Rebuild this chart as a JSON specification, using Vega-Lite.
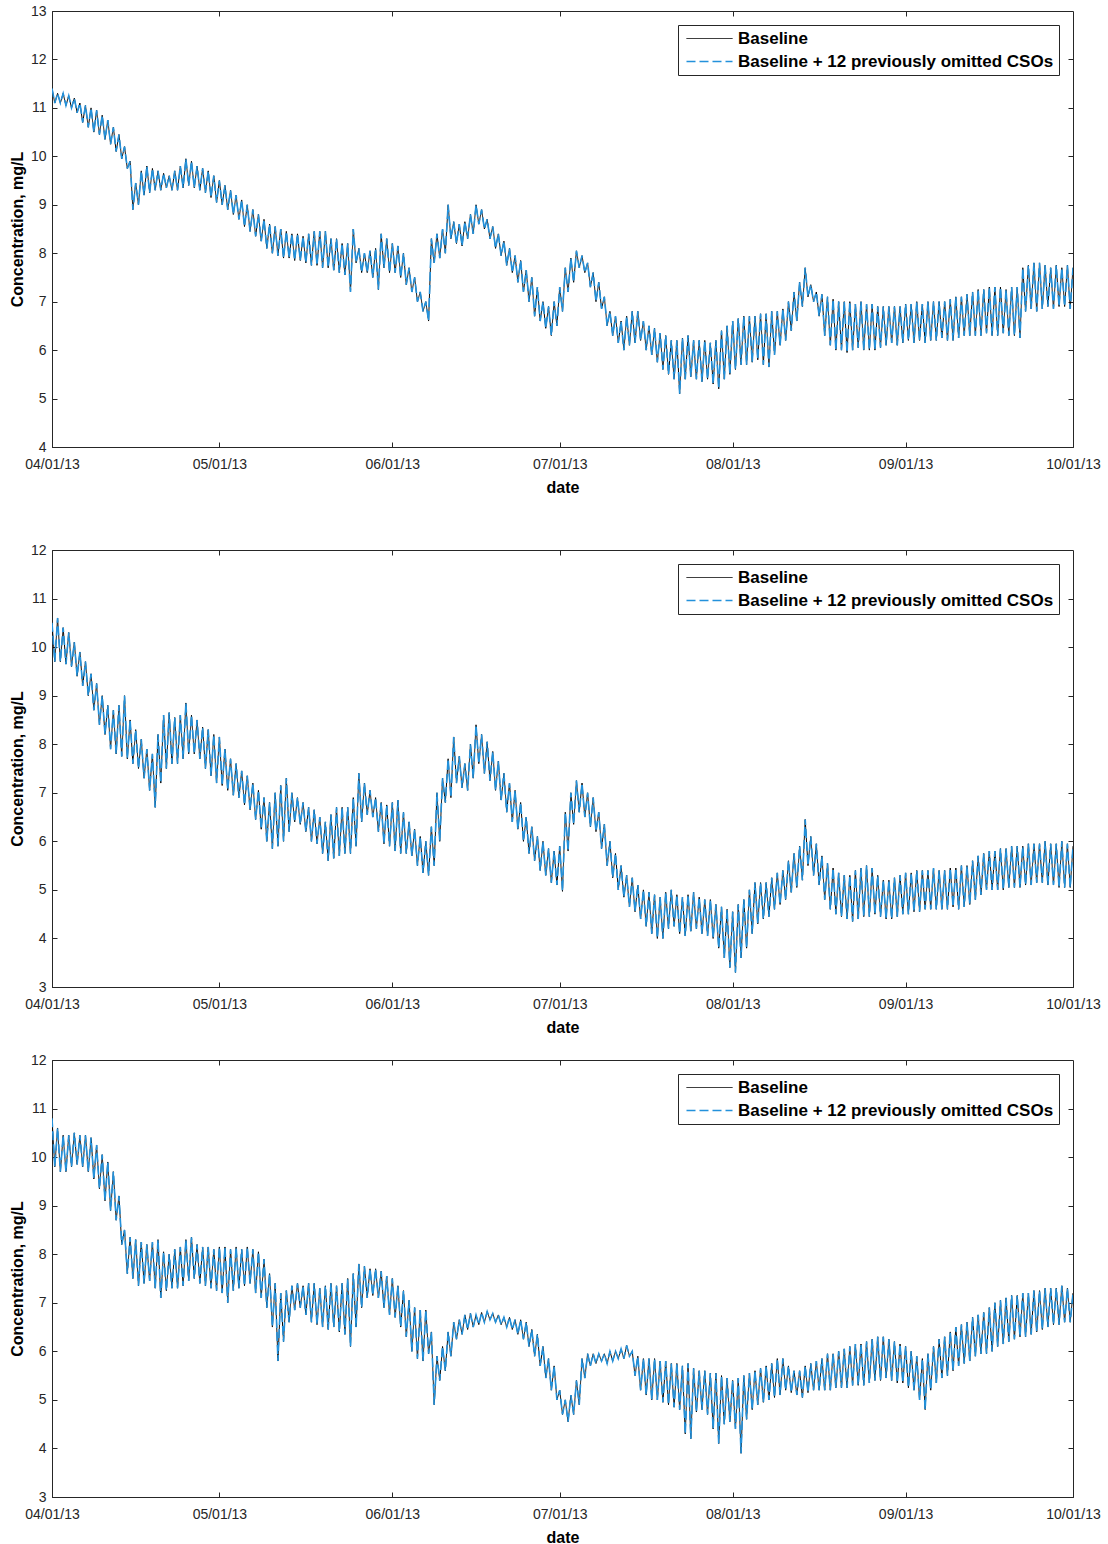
{
"$schema":"https://vega.github.io/schema/vega-lite/v6.json",
"padding":{"left":8,"top":3,"right":0,"bottom":0},
"spacing":46,
"config":{
"view":{"stroke":"#262626","strokeWidth":1},
"font":"Liberation Sans",
"axis":{"grid":false,"labelFont":"Liberation Sans","labelFontSize":14,"labelColor":"#262626","domainColor":"#262626","tickColor":"#262626","tickSize":-5,"titleFont":"Liberation Sans","titleFontSize":16,"titleFontWeight":"bold","titleColor":"#000000","labelFlush":false,"labelOverlap":false},
"axisX":{"labelPadding":15,"titlePadding":8},
"axisY":{"labelPadding":11,"titlePadding":5},
"legend":{"orient":"top-right","offset":14,"labelFont":"Liberation Sans","labelFontSize":17,"labelFontWeight":"bold","labelColor":"#000000","labelLimit":600,"symbolType":"M-4.6,0H4.6","symbolSize":100,"symbolOffset":18,"symbolStrokeWidth":1.5,"strokeColor":"#262626","fillColor":"#ffffff","padding":5,"labelOffset":20,"rowPadding":5}
},
"data":{"format":{"parse":{"t":"date:'%y%m%d%H'"}},"values":[
{"t":"13040100","b1":11.4,"c1":11.4,"b2":10.5,"c2":10.5,"b3":10.8,"c3":10.8},
{"t":"13040112","b1":11.1,"c1":11.1,"b2":9.7,"c2":9.7,"b3":9.8,"c3":9.8},
{"t":"13040200","b1":11.3,"c1":11.3,"b2":10.6,"c2":10.6,"b3":10.6,"c3":10.6},
{"t":"13040212","b1":11.1,"c1":11.1,"b2":9.7,"c2":9.7,"b3":9.7,"c3":9.7},
{"t":"13040300","b1":11.3,"c1":11.3,"b2":10.4,"c2":10.4,"b3":10.45,"c3":10.45},
{"t":"13040312","b1":11.05,"c1":11.05,"b2":9.65,"c2":9.65,"b3":9.7,"c3":9.7},
{"t":"13040400","b1":11.25,"c1":11.25,"b2":10.3,"c2":10.3,"b3":10.45,"c3":10.45},
{"t":"13040412","b1":11.0,"c1":11.0,"b2":9.6,"c2":9.6,"b3":9.8,"c3":9.8},
{"t":"13040500","b1":11.2,"c1":11.2,"b2":10.1,"c2":10.1,"b3":10.5,"c3":10.5},
{"t":"13040512","b1":10.9,"c1":10.9,"b2":9.4,"c2":9.4,"b3":9.85,"c3":9.85},
{"t":"13040600","b1":11.1,"c1":11.1,"b2":9.9,"c2":9.9,"b3":10.45,"c3":10.45},
{"t":"13040612","b1":10.7,"c1":10.7,"b2":9.2,"c2":9.2,"b3":9.8,"c3":9.8},
{"t":"13040700","b1":11.05,"c1":11.05,"b2":9.7,"c2":9.7,"b3":10.45,"c3":10.45},
{"t":"13040712","b1":10.6,"c1":10.6,"b2":9.0,"c2":9.0,"b3":9.7,"c3":9.7},
{"t":"13040800","b1":11.0,"c1":11.0,"b2":9.45,"c2":9.45,"b3":10.4,"c3":10.4},
{"t":"13040812","b1":10.5,"c1":10.5,"b2":8.7,"c2":8.7,"b3":9.55,"c3":9.55},
{"t":"13040900","b1":10.95,"c1":10.95,"b2":9.25,"c2":9.25,"b3":10.25,"c3":10.25},
{"t":"13040912","b1":10.45,"c1":10.45,"b2":8.4,"c2":8.4,"b3":9.35,"c3":9.35},
{"t":"13041000","b1":10.85,"c1":10.85,"b2":9.0,"c2":9.0,"b3":10.05,"c3":10.05},
{"t":"13041012","b1":10.35,"c1":10.35,"b2":8.2,"c2":8.2,"b3":9.1,"c3":9.1},
{"t":"13041100","b1":10.75,"c1":10.75,"b2":8.8,"c2":8.8,"b3":9.9,"c3":9.9},
{"t":"13041112","b1":10.25,"c1":10.25,"b2":7.9,"c2":7.9,"b3":8.9,"c3":8.9},
{"t":"13041200","b1":10.6,"c1":10.6,"b2":8.7,"c2":8.7,"b3":9.7,"c3":9.7},
{"t":"13041212","b1":10.1,"c1":10.1,"b2":7.8,"c2":7.8,"b3":8.7,"c3":8.7},
{"t":"13041300","b1":10.45,"c1":10.45,"b2":8.8,"c2":8.8,"b3":9.2,"c3":9.2},
{"t":"13041312","b1":9.95,"c1":9.95,"b2":7.75,"c2":7.75,"b3":8.2,"c3":8.2},
{"t":"13041400","b1":10.2,"c1":10.2,"b2":9.0,"c2":9.0,"b3":8.5,"c3":8.5},
{"t":"13041412","b1":9.75,"c1":9.75,"b2":7.7,"c2":7.7,"b3":7.6,"c3":7.6},
{"t":"13041500","b1":9.9,"c1":9.9,"b2":8.5,"c2":8.5,"b3":8.35,"c3":8.35},
{"t":"13041512","b1":8.9,"c1":8.9,"b2":7.6,"c2":7.6,"b3":7.5,"c3":7.5},
{"t":"13041600","b1":9.45,"c1":9.45,"b2":8.3,"c2":8.3,"b3":8.3,"c3":8.3},
{"t":"13041612","b1":9.0,"c1":9.0,"b2":7.5,"c2":7.5,"b3":7.35,"c3":7.35},
{"t":"13041700","b1":9.7,"c1":9.7,"b2":8.1,"c2":8.1,"b3":8.25,"c3":8.25},
{"t":"13041712","b1":9.2,"c1":9.2,"b2":7.3,"c2":7.3,"b3":7.4,"c3":7.4},
{"t":"13041800","b1":9.8,"c1":9.8,"b2":7.9,"c2":7.9,"b3":8.2,"c3":8.2},
{"t":"13041812","b1":9.25,"c1":9.25,"b2":7.05,"c2":7.05,"b3":7.45,"c3":7.45},
{"t":"13041900","b1":9.75,"c1":9.75,"b2":7.8,"c2":7.8,"b3":8.25,"c3":8.25},
{"t":"13041912","b1":9.3,"c1":9.3,"b2":6.7,"c2":6.7,"b3":7.3,"c3":7.3},
{"t":"13042000","b1":9.7,"c1":9.7,"b2":8.2,"c2":8.2,"b3":8.3,"c3":8.3},
{"t":"13042012","b1":9.3,"c1":9.3,"b2":7.2,"c2":7.2,"b3":7.1,"c3":7.1},
{"t":"13042100","b1":9.65,"c1":9.65,"b2":8.6,"c2":8.6,"b3":8.05,"c3":8.05},
{"t":"13042112","b1":9.35,"c1":9.35,"b2":7.5,"c2":7.5,"b3":7.25,"c3":7.25},
{"t":"13042200","b1":9.6,"c1":9.6,"b2":8.65,"c2":8.65,"b3":8.0,"c3":8.0},
{"t":"13042212","b1":9.3,"c1":9.3,"b2":7.6,"c2":7.6,"b3":7.3,"c3":7.3},
{"t":"13042300","b1":9.7,"c1":9.7,"b2":8.55,"c2":8.55,"b3":8.1,"c3":8.1},
{"t":"13042312","b1":9.3,"c1":9.3,"b2":7.6,"c2":7.6,"b3":7.3,"c3":7.3},
{"t":"13042400","b1":9.8,"c1":9.8,"b2":8.6,"c2":8.6,"b3":8.15,"c3":8.15},
{"t":"13042412","b1":9.35,"c1":9.35,"b2":7.7,"c2":7.7,"b3":7.35,"c3":7.35},
{"t":"13042500","b1":9.95,"c1":9.95,"b2":8.85,"c2":8.85,"b3":8.3,"c3":8.3},
{"t":"13042512","b1":9.4,"c1":9.4,"b2":7.8,"c2":7.8,"b3":7.45,"c3":7.45},
{"t":"13042600","b1":9.9,"c1":9.9,"b2":8.6,"c2":8.6,"b3":8.35,"c3":8.35},
{"t":"13042612","b1":9.35,"c1":9.35,"b2":7.8,"c2":7.8,"b3":7.5,"c3":7.5},
{"t":"13042700","b1":9.8,"c1":9.8,"b2":8.5,"c2":8.5,"b3":8.2,"c3":8.2},
{"t":"13042712","b1":9.3,"c1":9.3,"b2":7.7,"c2":7.7,"b3":7.4,"c3":7.4},
{"t":"13042800","b1":9.75,"c1":9.75,"b2":8.35,"c2":8.35,"b3":8.15,"c3":8.15},
{"t":"13042812","b1":9.25,"c1":9.25,"b2":7.5,"c2":7.5,"b3":7.35,"c3":7.35},
{"t":"13042900","b1":9.7,"c1":9.7,"b2":8.3,"c2":8.3,"b3":8.15,"c3":8.15},
{"t":"13042912","b1":9.15,"c1":9.15,"b2":7.35,"c2":7.35,"b3":7.3,"c3":7.3},
{"t":"13043000","b1":9.6,"c1":9.6,"b2":8.2,"c2":8.2,"b3":8.1,"c3":8.1},
{"t":"13043012","b1":9.05,"c1":9.05,"b2":7.2,"c2":7.2,"b3":7.25,"c3":7.25},
{"t":"13050100","b1":9.5,"c1":9.5,"b2":8.15,"c2":8.15,"b3":8.15,"c3":8.15},
{"t":"13050112","b1":9.0,"c1":9.0,"b2":7.15,"c2":7.15,"b3":7.2,"c3":7.2},
{"t":"13050200","b1":9.4,"c1":9.4,"b2":7.9,"c2":7.9,"b3":8.15,"c3":8.15},
{"t":"13050212","b1":8.9,"c1":8.9,"b2":7.05,"c2":7.05,"b3":7.0,"c3":7.0},
{"t":"13050300","b1":9.3,"c1":9.3,"b2":7.7,"c2":7.7,"b3":8.1,"c3":8.1},
{"t":"13050312","b1":8.8,"c1":8.8,"b2":6.95,"c2":6.95,"b3":7.25,"c3":7.25},
{"t":"13050400","b1":9.2,"c1":9.2,"b2":7.6,"c2":7.6,"b3":8.15,"c3":8.15},
{"t":"13050412","b1":8.7,"c1":8.7,"b2":6.9,"c2":6.9,"b3":7.3,"c3":7.3},
{"t":"13050500","b1":9.1,"c1":9.1,"b2":7.45,"c2":7.45,"b3":8.1,"c3":8.1},
{"t":"13050512","b1":8.55,"c1":8.55,"b2":6.75,"c2":6.75,"b3":7.35,"c3":7.35},
{"t":"13050600","b1":9.0,"c1":9.0,"b2":7.35,"c2":7.35,"b3":8.15,"c3":8.15},
{"t":"13050612","b1":8.45,"c1":8.45,"b2":6.65,"c2":6.65,"b3":7.4,"c3":7.4},
{"t":"13050700","b1":8.9,"c1":8.9,"b2":7.2,"c2":7.2,"b3":8.1,"c3":8.1},
{"t":"13050712","b1":8.35,"c1":8.35,"b2":6.45,"c2":6.45,"b3":7.2,"c3":7.2},
{"t":"13050800","b1":8.8,"c1":8.8,"b2":7.05,"c2":7.05,"b3":8.05,"c3":8.05},
{"t":"13050812","b1":8.25,"c1":8.25,"b2":6.25,"c2":6.25,"b3":7.1,"c3":7.1},
{"t":"13050900","b1":8.7,"c1":8.7,"b2":6.9,"c2":6.9,"b3":7.9,"c3":7.9},
{"t":"13050912","b1":8.1,"c1":8.1,"b2":6.0,"c2":6.0,"b3":6.9,"c3":6.9},
{"t":"13051000","b1":8.6,"c1":8.6,"b2":6.8,"c2":6.8,"b3":7.6,"c3":7.6},
{"t":"13051012","b1":8.0,"c1":8.0,"b2":5.85,"c2":5.85,"b3":6.5,"c3":6.5},
{"t":"13051100","b1":8.55,"c1":8.55,"b2":7.0,"c2":7.0,"b3":7.4,"c3":7.4},
{"t":"13051112","b1":7.95,"c1":7.95,"b2":5.9,"c2":5.9,"b3":5.8,"c3":5.8},
{"t":"13051200","b1":8.5,"c1":8.5,"b2":7.15,"c2":7.15,"b3":7.2,"c3":7.2},
{"t":"13051212","b1":7.9,"c1":7.9,"b2":6.0,"c2":6.0,"b3":6.2,"c3":6.2},
{"t":"13051300","b1":8.45,"c1":8.45,"b2":7.3,"c2":7.3,"b3":7.25,"c3":7.25},
{"t":"13051312","b1":7.9,"c1":7.9,"b2":6.2,"c2":6.2,"b3":6.6,"c3":6.6},
{"t":"13051400","b1":8.4,"c1":8.4,"b2":7.0,"c2":7.0,"b3":7.35,"c3":7.35},
{"t":"13051412","b1":7.85,"c1":7.85,"b2":6.4,"c2":6.4,"b3":6.85,"c3":6.85},
{"t":"13051500","b1":8.4,"c1":8.4,"b2":6.9,"c2":6.9,"b3":7.4,"c3":7.4},
{"t":"13051512","b1":7.85,"c1":7.85,"b2":6.35,"c2":6.35,"b3":6.9,"c3":6.9},
{"t":"13051600","b1":8.35,"c1":8.35,"b2":6.8,"c2":6.8,"b3":7.35,"c3":7.35},
{"t":"13051612","b1":7.8,"c1":7.8,"b2":6.2,"c2":6.2,"b3":6.75,"c3":6.75},
{"t":"13051700","b1":8.4,"c1":8.4,"b2":6.7,"c2":6.7,"b3":7.4,"c3":7.4},
{"t":"13051712","b1":7.75,"c1":7.75,"b2":6.0,"c2":6.0,"b3":6.6,"c3":6.6},
{"t":"13051800","b1":8.45,"c1":8.45,"b2":6.65,"c2":6.65,"b3":7.4,"c3":7.4},
{"t":"13051812","b1":7.75,"c1":7.75,"b2":5.95,"c2":5.95,"b3":6.55,"c3":6.55},
{"t":"13051900","b1":8.45,"c1":8.45,"b2":6.5,"c2":6.5,"b3":7.3,"c3":7.3},
{"t":"13051912","b1":7.7,"c1":7.7,"b2":5.75,"c2":5.75,"b3":6.5,"c3":6.5},
{"t":"13052000","b1":8.45,"c1":8.45,"b2":6.4,"c2":6.4,"b3":7.35,"c3":7.35},
{"t":"13052012","b1":7.7,"c1":7.7,"b2":5.6,"c2":5.6,"b3":6.45,"c3":6.45},
{"t":"13052100","b1":8.3,"c1":8.3,"b2":6.55,"c2":6.55,"b3":7.4,"c3":7.4},
{"t":"13052112","b1":7.65,"c1":7.65,"b2":5.65,"c2":5.65,"b3":6.5,"c3":6.5},
{"t":"13052200","b1":8.3,"c1":8.3,"b2":6.7,"c2":6.7,"b3":7.35,"c3":7.35},
{"t":"13052212","b1":7.6,"c1":7.6,"b2":5.7,"c2":5.7,"b3":6.4,"c3":6.4},
{"t":"13052300","b1":8.2,"c1":8.2,"b2":6.7,"c2":6.7,"b3":7.4,"c3":7.4},
{"t":"13052312","b1":7.55,"c1":7.55,"b2":5.75,"c2":5.75,"b3":6.35,"c3":6.35},
{"t":"13052400","b1":8.2,"c1":8.2,"b2":6.7,"c2":6.7,"b3":7.5,"c3":7.5},
{"t":"13052412","b1":7.2,"c1":7.2,"b2":5.75,"c2":5.75,"b3":6.1,"c3":6.1},
{"t":"13052500","b1":8.5,"c1":8.5,"b2":6.9,"c2":6.9,"b3":7.6,"c3":7.6},
{"t":"13052512","b1":7.8,"c1":7.8,"b2":5.9,"c2":5.9,"b3":6.5,"c3":6.5},
{"t":"13052600","b1":8.1,"c1":8.1,"b2":7.4,"c2":7.4,"b3":7.8,"c3":7.8},
{"t":"13052612","b1":7.6,"c1":7.6,"b2":6.4,"c2":6.4,"b3":6.9,"c3":6.9},
{"t":"13052700","b1":8.0,"c1":8.0,"b2":7.2,"c2":7.2,"b3":7.75,"c3":7.75},
{"t":"13052712","b1":7.6,"c1":7.6,"b2":6.55,"c2":6.55,"b3":7.1,"c3":7.1},
{"t":"13052800","b1":8.05,"c1":8.05,"b2":7.05,"c2":7.05,"b3":7.7,"c3":7.7},
{"t":"13052812","b1":7.5,"c1":7.5,"b2":6.5,"c2":6.5,"b3":7.15,"c3":7.15},
{"t":"13052900","b1":8.1,"c1":8.1,"b2":6.9,"c2":6.9,"b3":7.7,"c3":7.7},
{"t":"13052912","b1":7.25,"c1":7.25,"b2":6.2,"c2":6.2,"b3":7.1,"c3":7.1},
{"t":"13053000","b1":8.4,"c1":8.4,"b2":6.8,"c2":6.8,"b3":7.65,"c3":7.65},
{"t":"13053012","b1":7.7,"c1":7.7,"b2":5.95,"c2":5.95,"b3":6.9,"c3":6.9},
{"t":"13053100","b1":8.3,"c1":8.3,"b2":6.75,"c2":6.75,"b3":7.55,"c3":7.55},
{"t":"13053112","b1":7.6,"c1":7.6,"b2":5.9,"c2":5.9,"b3":6.75,"c3":6.75},
{"t":"13060100","b1":8.2,"c1":8.2,"b2":6.8,"c2":6.8,"b3":7.5,"c3":7.5},
{"t":"13060112","b1":7.6,"c1":7.6,"b2":5.8,"c2":5.8,"b3":6.7,"c3":6.7},
{"t":"13060200","b1":8.15,"c1":8.15,"b2":6.85,"c2":6.85,"b3":7.35,"c3":7.35},
{"t":"13060212","b1":7.5,"c1":7.5,"b2":5.75,"c2":5.75,"b3":6.5,"c3":6.5},
{"t":"13060300","b1":8.0,"c1":8.0,"b2":6.6,"c2":6.6,"b3":7.25,"c3":7.25},
{"t":"13060312","b1":7.35,"c1":7.35,"b2":5.75,"c2":5.75,"b3":6.3,"c3":6.3},
{"t":"13060400","b1":7.7,"c1":7.7,"b2":6.4,"c2":6.4,"b3":7.05,"c3":7.05},
{"t":"13060412","b1":7.2,"c1":7.2,"b2":5.7,"c2":5.7,"b3":6.0,"c3":6.0},
{"t":"13060500","b1":7.5,"c1":7.5,"b2":6.25,"c2":6.25,"b3":6.9,"c3":6.9},
{"t":"13060512","b1":7.0,"c1":7.0,"b2":5.5,"c2":5.5,"b3":5.85,"c3":5.85},
{"t":"13060600","b1":7.2,"c1":7.2,"b2":6.1,"c2":6.1,"b3":6.85,"c3":6.85},
{"t":"13060612","b1":6.8,"c1":6.8,"b2":5.35,"c2":5.35,"b3":5.8,"c3":5.8},
{"t":"13060700","b1":7.0,"c1":7.0,"b2":6.0,"c2":6.0,"b3":6.85,"c3":6.85},
{"t":"13060712","b1":6.6,"c1":6.6,"b2":5.3,"c2":5.3,"b3":5.95,"c3":5.95},
{"t":"13060800","b1":8.3,"c1":8.3,"b2":6.3,"c2":6.3,"b3":6.4,"c3":6.4},
{"t":"13060812","b1":7.8,"c1":7.8,"b2":5.5,"c2":5.5,"b3":4.9,"c3":4.9},
{"t":"13060900","b1":8.4,"c1":8.4,"b2":7.0,"c2":7.0,"b3":5.9,"c3":5.9},
{"t":"13060912","b1":7.9,"c1":7.9,"b2":6.0,"c2":6.0,"b3":5.4,"c3":5.4},
{"t":"13061000","b1":8.5,"c1":8.5,"b2":7.3,"c2":7.3,"b3":6.1,"c3":6.1},
{"t":"13061012","b1":8.0,"c1":8.0,"b2":6.8,"c2":6.8,"b3":5.6,"c3":5.6},
{"t":"13061100","b1":9.0,"c1":9.0,"b2":7.7,"c2":7.7,"b3":6.4,"c3":6.4},
{"t":"13061112","b1":8.3,"c1":8.3,"b2":6.9,"c2":6.9,"b3":5.9,"c3":5.9},
{"t":"13061200","b1":8.65,"c1":8.65,"b2":8.15,"c2":8.15,"b3":6.6,"c3":6.6},
{"t":"13061212","b1":8.2,"c1":8.2,"b2":7.2,"c2":7.2,"b3":6.25,"c3":6.25},
{"t":"13061300","b1":8.6,"c1":8.6,"b2":7.75,"c2":7.75,"b3":6.65,"c3":6.65},
{"t":"13061312","b1":8.15,"c1":8.15,"b2":7.1,"c2":7.1,"b3":6.35,"c3":6.35},
{"t":"13061400","b1":8.65,"c1":8.65,"b2":7.6,"c2":7.6,"b3":6.75,"c3":6.75},
{"t":"13061412","b1":8.3,"c1":8.3,"b2":7.05,"c2":7.05,"b3":6.45,"c3":6.45},
{"t":"13061500","b1":8.8,"c1":8.8,"b2":8.0,"c2":8.0,"b3":6.78,"c3":6.78},
{"t":"13061512","b1":8.4,"c1":8.4,"b2":7.3,"c2":7.3,"b3":6.5,"c3":6.5},
{"t":"13061600","b1":9.0,"c1":9.0,"b2":8.4,"c2":8.4,"b3":6.75,"c3":6.75},
{"t":"13061612","b1":8.6,"c1":8.6,"b2":7.6,"c2":7.6,"b3":6.55,"c3":6.55},
{"t":"13061700","b1":8.9,"c1":8.9,"b2":8.2,"c2":8.2,"b3":6.8,"c3":6.8},
{"t":"13061712","b1":8.5,"c1":8.5,"b2":7.4,"c2":7.4,"b3":6.6,"c3":6.6},
{"t":"13061800","b1":8.7,"c1":8.7,"b2":8.05,"c2":8.05,"b3":6.82,"c3":6.82},
{"t":"13061812","b1":8.3,"c1":8.3,"b2":7.25,"c2":7.25,"b3":6.65,"c3":6.65},
{"t":"13061900","b1":8.55,"c1":8.55,"b2":7.85,"c2":7.85,"b3":6.78,"c3":6.78},
{"t":"13061912","b1":8.1,"c1":8.1,"b2":7.05,"c2":7.05,"b3":6.6,"c3":6.6},
{"t":"13062000","b1":8.4,"c1":8.4,"b2":7.65,"c2":7.65,"b3":6.75,"c3":6.75},
{"t":"13062012","b1":7.95,"c1":7.95,"b2":6.85,"c2":6.85,"b3":6.55,"c3":6.55},
{"t":"13062100","b1":8.25,"c1":8.25,"b2":7.4,"c2":7.4,"b3":6.7,"c3":6.7},
{"t":"13062112","b1":7.75,"c1":7.75,"b2":6.6,"c2":6.6,"b3":6.5,"c3":6.5},
{"t":"13062200","b1":8.1,"c1":8.1,"b2":7.2,"c2":7.2,"b3":6.7,"c3":6.7},
{"t":"13062212","b1":7.6,"c1":7.6,"b2":6.4,"c2":6.4,"b3":6.45,"c3":6.45},
{"t":"13062300","b1":7.95,"c1":7.95,"b2":7.05,"c2":7.05,"b3":6.65,"c3":6.65},
{"t":"13062312","b1":7.4,"c1":7.4,"b2":6.25,"c2":6.25,"b3":6.35,"c3":6.35},
{"t":"13062400","b1":7.85,"c1":7.85,"b2":6.8,"c2":6.8,"b3":6.65,"c3":6.65},
{"t":"13062412","b1":7.2,"c1":7.2,"b2":6.0,"c2":6.0,"b3":6.25,"c3":6.25},
{"t":"13062500","b1":7.65,"c1":7.65,"b2":6.5,"c2":6.5,"b3":6.6,"c3":6.6},
{"t":"13062512","b1":7.0,"c1":7.0,"b2":5.75,"c2":5.75,"b3":6.1,"c3":6.1},
{"t":"13062600","b1":7.5,"c1":7.5,"b2":6.3,"c2":6.3,"b3":6.45,"c3":6.45},
{"t":"13062612","b1":6.7,"c1":6.7,"b2":5.6,"c2":5.6,"b3":5.9,"c3":5.9},
{"t":"13062700","b1":7.3,"c1":7.3,"b2":6.1,"c2":6.1,"b3":6.35,"c3":6.35},
{"t":"13062712","b1":6.6,"c1":6.6,"b2":5.4,"c2":5.4,"b3":5.7,"c3":5.7},
{"t":"13062800","b1":7.0,"c1":7.0,"b2":6.0,"c2":6.0,"b3":6.1,"c3":6.1},
{"t":"13062812","b1":6.45,"c1":6.45,"b2":5.3,"c2":5.3,"b3":5.45,"c3":5.45},
{"t":"13062900","b1":6.9,"c1":6.9,"b2":5.85,"c2":5.85,"b3":5.85,"c3":5.85},
{"t":"13062912","b1":6.3,"c1":6.3,"b2":5.15,"c2":5.15,"b3":5.2,"c3":5.2},
{"t":"13063000","b1":7.0,"c1":7.0,"b2":5.8,"c2":5.8,"b3":5.7,"c3":5.7},
{"t":"13063012","b1":6.5,"c1":6.5,"b2":5.1,"c2":5.1,"b3":5.0,"c3":5.0},
{"t":"13070100","b1":7.3,"c1":7.3,"b2":5.9,"c2":5.9,"b3":5.2,"c3":5.2},
{"t":"13070112","b1":6.8,"c1":6.8,"b2":4.97,"c2":4.97,"b3":4.7,"c3":4.7},
{"t":"13070200","b1":7.7,"c1":7.7,"b2":6.6,"c2":6.6,"b3":5.0,"c3":5.0},
{"t":"13070212","b1":7.2,"c1":7.2,"b2":5.8,"c2":5.8,"b3":4.55,"c3":4.55},
{"t":"13070300","b1":7.9,"c1":7.9,"b2":7.0,"c2":7.0,"b3":5.1,"c3":5.1},
{"t":"13070312","b1":7.4,"c1":7.4,"b2":6.35,"c2":6.35,"b3":4.7,"c3":4.7},
{"t":"13070400","b1":8.05,"c1":8.05,"b2":7.25,"c2":7.25,"b3":5.4,"c3":5.4},
{"t":"13070412","b1":7.7,"c1":7.7,"b2":6.6,"c2":6.6,"b3":4.9,"c3":4.9},
{"t":"13070500","b1":7.95,"c1":7.95,"b2":7.2,"c2":7.2,"b3":5.85,"c3":5.85},
{"t":"13070512","b1":7.6,"c1":7.6,"b2":6.5,"c2":6.5,"b3":5.45,"c3":5.45},
{"t":"13070600","b1":7.8,"c1":7.8,"b2":7.0,"c2":7.0,"b3":5.95,"c3":5.95},
{"t":"13070612","b1":7.3,"c1":7.3,"b2":6.3,"c2":6.3,"b3":5.7,"c3":5.7},
{"t":"13070700","b1":7.6,"c1":7.6,"b2":6.9,"c2":6.9,"b3":5.95,"c3":5.95},
{"t":"13070712","b1":7.0,"c1":7.0,"b2":6.2,"c2":6.2,"b3":5.75,"c3":5.75},
{"t":"13070800","b1":7.4,"c1":7.4,"b2":6.6,"c2":6.6,"b3":5.95,"c3":5.95},
{"t":"13070812","b1":6.85,"c1":6.85,"b2":5.85,"c2":5.85,"b3":5.8,"c3":5.8},
{"t":"13070900","b1":7.1,"c1":7.1,"b2":6.35,"c2":6.35,"b3":5.95,"c3":5.95},
{"t":"13070912","b1":6.5,"c1":6.5,"b2":5.5,"c2":5.5,"b3":5.75,"c3":5.75},
{"t":"13071000","b1":6.8,"c1":6.8,"b2":6.0,"c2":6.0,"b3":6.0,"c3":6.0},
{"t":"13071012","b1":6.3,"c1":6.3,"b2":5.25,"c2":5.25,"b3":5.8,"c3":5.8},
{"t":"13071100","b1":6.7,"c1":6.7,"b2":5.75,"c2":5.75,"b3":6.0,"c3":6.0},
{"t":"13071112","b1":6.15,"c1":6.15,"b2":5.0,"c2":5.0,"b3":5.85,"c3":5.85},
{"t":"13071200","b1":6.6,"c1":6.6,"b2":5.5,"c2":5.5,"b3":6.05,"c3":6.05},
{"t":"13071212","b1":6.0,"c1":6.0,"b2":4.85,"c2":4.85,"b3":5.85,"c3":5.85},
{"t":"13071300","b1":6.7,"c1":6.7,"b2":5.3,"c2":5.3,"b3":6.12,"c3":6.12},
{"t":"13071312","b1":6.1,"c1":6.1,"b2":4.65,"c2":4.65,"b3":5.9,"c3":5.9},
{"t":"13071400","b1":6.8,"c1":6.8,"b2":5.25,"c2":5.25,"b3":6.0,"c3":6.0},
{"t":"13071412","b1":6.15,"c1":6.15,"b2":4.55,"c2":4.55,"b3":5.5,"c3":5.5},
{"t":"13071500","b1":6.8,"c1":6.8,"b2":5.1,"c2":5.1,"b3":5.9,"c3":5.9},
{"t":"13071512","b1":6.2,"c1":6.2,"b2":4.4,"c2":4.4,"b3":5.2,"c3":5.2},
{"t":"13071600","b1":6.6,"c1":6.6,"b2":5.0,"c2":5.0,"b3":5.85,"c3":5.85},
{"t":"13071612","b1":6.0,"c1":6.0,"b2":4.25,"c2":4.25,"b3":5.1,"c3":5.1},
{"t":"13071700","b1":6.5,"c1":6.5,"b2":4.95,"c2":4.95,"b3":5.85,"c3":5.85},
{"t":"13071712","b1":5.9,"c1":5.9,"b2":4.1,"c2":4.1,"b3":5.0,"c3":5.0},
{"t":"13071800","b1":6.45,"c1":6.45,"b2":4.9,"c2":4.9,"b3":5.85,"c3":5.85},
{"t":"13071812","b1":5.75,"c1":5.75,"b2":4.0,"c2":4.0,"b3":5.0,"c3":5.0},
{"t":"13071900","b1":6.35,"c1":6.35,"b2":4.85,"c2":4.85,"b3":5.8,"c3":5.8},
{"t":"13071912","b1":5.6,"c1":5.6,"b2":4.0,"c2":4.0,"b3":4.95,"c3":4.95},
{"t":"13072000","b1":6.3,"c1":6.3,"b2":4.95,"c2":4.95,"b3":5.8,"c3":5.8},
{"t":"13072012","b1":5.5,"c1":5.5,"b2":4.2,"c2":4.2,"b3":4.9,"c3":4.9},
{"t":"13072100","b1":6.2,"c1":6.2,"b2":5.0,"c2":5.0,"b3":5.75,"c3":5.75},
{"t":"13072112","b1":5.4,"c1":5.4,"b2":4.25,"c2":4.25,"b3":4.85,"c3":4.85},
{"t":"13072200","b1":6.2,"c1":6.2,"b2":4.9,"c2":4.9,"b3":5.75,"c3":5.75},
{"t":"13072212","b1":5.1,"c1":5.1,"b2":4.1,"c2":4.1,"b3":4.8,"c3":4.8},
{"t":"13072300","b1":6.25,"c1":6.25,"b2":4.85,"c2":4.85,"b3":5.7,"c3":5.7},
{"t":"13072312","b1":5.4,"c1":5.4,"b2":4.05,"c2":4.05,"b3":4.3,"c3":4.3},
{"t":"13072400","b1":6.3,"c1":6.3,"b2":4.9,"c2":4.9,"b3":5.75,"c3":5.75},
{"t":"13072412","b1":5.45,"c1":5.45,"b2":4.15,"c2":4.15,"b3":4.2,"c3":4.2},
{"t":"13072500","b1":6.2,"c1":6.2,"b2":4.95,"c2":4.95,"b3":5.65,"c3":5.65},
{"t":"13072512","b1":5.4,"c1":5.4,"b2":4.2,"c2":4.2,"b3":4.75,"c3":4.75},
{"t":"13072600","b1":6.2,"c1":6.2,"b2":4.85,"c2":4.85,"b3":5.6,"c3":5.6},
{"t":"13072612","b1":5.35,"c1":5.35,"b2":4.1,"c2":4.1,"b3":4.8,"c3":4.8},
{"t":"13072700","b1":6.2,"c1":6.2,"b2":4.8,"c2":4.8,"b3":5.6,"c3":5.6},
{"t":"13072712","b1":5.4,"c1":5.4,"b2":4.05,"c2":4.05,"b3":4.7,"c3":4.7},
{"t":"13072800","b1":6.15,"c1":6.15,"b2":4.8,"c2":4.8,"b3":5.55,"c3":5.55},
{"t":"13072812","b1":5.3,"c1":5.3,"b2":4.0,"c2":4.0,"b3":4.4,"c3":4.4},
{"t":"13072900","b1":6.2,"c1":6.2,"b2":4.7,"c2":4.7,"b3":5.55,"c3":5.55},
{"t":"13072912","b1":5.2,"c1":5.2,"b2":3.8,"c2":3.8,"b3":4.1,"c3":4.1},
{"t":"13073000","b1":6.4,"c1":6.4,"b2":4.65,"c2":4.65,"b3":5.5,"c3":5.5},
{"t":"13073012","b1":5.4,"c1":5.4,"b2":3.6,"c2":3.6,"b3":4.5,"c3":4.5},
{"t":"13073100","b1":6.5,"c1":6.5,"b2":4.6,"c2":4.6,"b3":5.45,"c3":5.45},
{"t":"13073112","b1":5.5,"c1":5.5,"b2":3.4,"c2":3.4,"b3":4.55,"c3":4.55},
{"t":"13080100","b1":6.6,"c1":6.6,"b2":4.55,"c2":4.55,"b3":5.4,"c3":5.4},
{"t":"13080112","b1":5.6,"c1":5.6,"b2":3.3,"c2":3.3,"b3":4.4,"c3":4.4},
{"t":"13080200","b1":6.65,"c1":6.65,"b2":4.7,"c2":4.7,"b3":5.45,"c3":5.45},
{"t":"13080212","b1":5.7,"c1":5.7,"b2":3.6,"c2":3.6,"b3":3.9,"c3":3.9},
{"t":"13080300","b1":6.7,"c1":6.7,"b2":4.8,"c2":4.8,"b3":5.5,"c3":5.5},
{"t":"13080312","b1":5.7,"c1":5.7,"b2":3.8,"c2":3.8,"b3":4.6,"c3":4.6},
{"t":"13080400","b1":6.7,"c1":6.7,"b2":5.0,"c2":5.0,"b3":5.55,"c3":5.55},
{"t":"13080412","b1":5.75,"c1":5.75,"b2":4.1,"c2":4.1,"b3":4.8,"c3":4.8},
{"t":"13080500","b1":6.7,"c1":6.7,"b2":5.15,"c2":5.15,"b3":5.6,"c3":5.6},
{"t":"13080512","b1":5.8,"c1":5.8,"b2":4.3,"c2":4.3,"b3":4.9,"c3":4.9},
{"t":"13080600","b1":6.75,"c1":6.75,"b2":5.15,"c2":5.15,"b3":5.65,"c3":5.65},
{"t":"13080612","b1":5.7,"c1":5.7,"b2":4.4,"c2":4.4,"b3":4.95,"c3":4.95},
{"t":"13080700","b1":6.75,"c1":6.75,"b2":5.15,"c2":5.15,"b3":5.7,"c3":5.7},
{"t":"13080712","b1":5.65,"c1":5.65,"b2":4.45,"c2":4.45,"b3":5.0,"c3":5.0},
{"t":"13080800","b1":6.8,"c1":6.8,"b2":5.25,"c2":5.25,"b3":5.75,"c3":5.75},
{"t":"13080812","b1":5.9,"c1":5.9,"b2":4.6,"c2":4.6,"b3":5.05,"c3":5.05},
{"t":"13080900","b1":6.8,"c1":6.8,"b2":5.35,"c2":5.35,"b3":5.85,"c3":5.85},
{"t":"13080912","b1":6.1,"c1":6.1,"b2":4.7,"c2":4.7,"b3":5.1,"c3":5.1},
{"t":"13081000","b1":6.85,"c1":6.85,"b2":5.4,"c2":5.4,"b3":5.85,"c3":5.85},
{"t":"13081012","b1":6.2,"c1":6.2,"b2":4.8,"c2":4.8,"b3":5.2,"c3":5.2},
{"t":"13081100","b1":7.0,"c1":7.0,"b2":5.6,"c2":5.6,"b3":5.7,"c3":5.7},
{"t":"13081112","b1":6.4,"c1":6.4,"b2":4.95,"c2":4.95,"b3":5.15,"c3":5.15},
{"t":"13081200","b1":7.2,"c1":7.2,"b2":5.75,"c2":5.75,"b3":5.6,"c3":5.6},
{"t":"13081212","b1":6.6,"c1":6.6,"b2":5.05,"c2":5.05,"b3":5.1,"c3":5.1},
{"t":"13081300","b1":7.4,"c1":7.4,"b2":5.9,"c2":5.9,"b3":5.6,"c3":5.6},
{"t":"13081312","b1":6.9,"c1":6.9,"b2":5.2,"c2":5.2,"b3":5.05,"c3":5.05},
{"t":"13081400","b1":7.7,"c1":7.7,"b2":6.45,"c2":6.45,"b3":5.7,"c3":5.7},
{"t":"13081412","b1":7.1,"c1":7.1,"b2":5.5,"c2":5.5,"b3":5.15,"c3":5.15},
{"t":"13081500","b1":7.35,"c1":7.35,"b2":6.1,"c2":6.1,"b3":5.75,"c3":5.75},
{"t":"13081512","b1":7.0,"c1":7.0,"b2":5.3,"c2":5.3,"b3":5.2,"c3":5.2},
{"t":"13081600","b1":7.2,"c1":7.2,"b2":5.95,"c2":5.95,"b3":5.8,"c3":5.8},
{"t":"13081612","b1":6.7,"c1":6.7,"b2":5.1,"c2":5.1,"b3":5.2,"c3":5.2},
{"t":"13081700","b1":7.15,"c1":7.15,"b2":5.7,"c2":5.7,"b3":5.85,"c3":5.85},
{"t":"13081712","b1":6.3,"c1":6.3,"b2":4.8,"c2":4.8,"b3":5.2,"c3":5.2},
{"t":"13081800","b1":7.1,"c1":7.1,"b2":5.55,"c2":5.55,"b3":5.95,"c3":5.95},
{"t":"13081812","b1":6.1,"c1":6.1,"b2":4.6,"c2":4.6,"b3":5.2,"c3":5.2},
{"t":"13081900","b1":7.05,"c1":7.05,"b2":5.45,"c2":5.45,"b3":5.95,"c3":5.95},
{"t":"13081912","b1":6.0,"c1":6.0,"b2":4.5,"c2":4.5,"b3":5.25,"c3":5.25},
{"t":"13082000","b1":7.0,"c1":7.0,"b2":5.35,"c2":5.35,"b3":6.0,"c3":6.0},
{"t":"13082012","b1":6.0,"c1":6.0,"b2":4.45,"c2":4.45,"b3":5.25,"c3":5.25},
{"t":"13082100","b1":7.0,"c1":7.0,"b2":5.3,"c2":5.3,"b3":6.05,"c3":6.05},
{"t":"13082112","b1":5.95,"c1":5.95,"b2":4.4,"c2":4.4,"b3":5.25,"c3":5.25},
{"t":"13082200","b1":7.0,"c1":7.0,"b2":5.3,"c2":5.3,"b3":6.1,"c3":6.1},
{"t":"13082212","b1":6.0,"c1":6.0,"b2":4.35,"c2":4.35,"b3":5.3,"c3":5.3},
{"t":"13082300","b1":6.95,"c1":6.95,"b2":5.4,"c2":5.4,"b3":6.15,"c3":6.15},
{"t":"13082312","b1":6.05,"c1":6.05,"b2":4.4,"c2":4.4,"b3":5.3,"c3":5.3},
{"t":"13082400","b1":7.0,"c1":7.0,"b2":5.45,"c2":5.45,"b3":6.15,"c3":6.15},
{"t":"13082412","b1":6.0,"c1":6.0,"b2":4.45,"c2":4.45,"b3":5.3,"c3":5.3},
{"t":"13082500","b1":6.95,"c1":6.95,"b2":5.5,"c2":5.5,"b3":6.2,"c3":6.2},
{"t":"13082512","b1":6.0,"c1":6.0,"b2":4.45,"c2":4.45,"b3":5.35,"c3":5.35},
{"t":"13082600","b1":6.95,"c1":6.95,"b2":5.45,"c2":5.45,"b3":6.25,"c3":6.25},
{"t":"13082612","b1":6.0,"c1":6.0,"b2":4.5,"c2":4.5,"b3":5.4,"c3":5.4},
{"t":"13082700","b1":6.9,"c1":6.9,"b2":5.3,"c2":5.3,"b3":6.3,"c3":6.3},
{"t":"13082712","b1":6.05,"c1":6.05,"b2":4.45,"c2":4.45,"b3":5.4,"c3":5.4},
{"t":"13082800","b1":6.9,"c1":6.9,"b2":5.2,"c2":5.2,"b3":6.3,"c3":6.3},
{"t":"13082812","b1":6.1,"c1":6.1,"b2":4.4,"c2":4.4,"b3":5.45,"c3":5.45},
{"t":"13082900","b1":6.9,"c1":6.9,"b2":5.2,"c2":5.2,"b3":6.25,"c3":6.25},
{"t":"13082912","b1":6.15,"c1":6.15,"b2":4.4,"c2":4.4,"b3":5.4,"c3":5.4},
{"t":"13083000","b1":6.9,"c1":6.9,"b2":5.25,"c2":5.25,"b3":6.2,"c3":6.2},
{"t":"13083012","b1":6.1,"c1":6.1,"b2":4.45,"c2":4.45,"b3":5.35,"c3":5.35},
{"t":"13083100","b1":6.9,"c1":6.9,"b2":5.3,"c2":5.3,"b3":6.15,"c3":6.15},
{"t":"13083112","b1":6.15,"c1":6.15,"b2":4.5,"c2":4.5,"b3":5.35,"c3":5.35},
{"t":"13090100","b1":6.95,"c1":6.95,"b2":5.35,"c2":5.35,"b3":6.1,"c3":6.1},
{"t":"13090112","b1":6.2,"c1":6.2,"b2":4.5,"c2":4.5,"b3":5.25,"c3":5.25},
{"t":"13090200","b1":6.95,"c1":6.95,"b2":5.35,"c2":5.35,"b3":6.0,"c3":6.0},
{"t":"13090212","b1":6.15,"c1":6.15,"b2":4.55,"c2":4.55,"b3":5.2,"c3":5.2},
{"t":"13090300","b1":7.0,"c1":7.0,"b2":5.4,"c2":5.4,"b3":5.9,"c3":5.9},
{"t":"13090312","b1":6.2,"c1":6.2,"b2":4.55,"c2":4.55,"b3":5.0,"c3":5.0},
{"t":"13090400","b1":6.95,"c1":6.95,"b2":5.4,"c2":5.4,"b3":5.85,"c3":5.85},
{"t":"13090412","b1":6.15,"c1":6.15,"b2":4.6,"c2":4.6,"b3":4.8,"c3":4.8},
{"t":"13090500","b1":7.0,"c1":7.0,"b2":5.4,"c2":5.4,"b3":5.95,"c3":5.95},
{"t":"13090512","b1":6.2,"c1":6.2,"b2":4.6,"c2":4.6,"b3":5.2,"c3":5.2},
{"t":"13090600","b1":7.0,"c1":7.0,"b2":5.45,"c2":5.45,"b3":6.1,"c3":6.1},
{"t":"13090612","b1":6.2,"c1":6.2,"b2":4.6,"c2":4.6,"b3":5.35,"c3":5.35},
{"t":"13090700","b1":7.0,"c1":7.0,"b2":5.4,"c2":5.4,"b3":6.25,"c3":6.25},
{"t":"13090712","b1":6.25,"c1":6.25,"b2":4.6,"c2":4.6,"b3":5.45,"c3":5.45},
{"t":"13090800","b1":7.0,"c1":7.0,"b2":5.4,"c2":5.4,"b3":6.3,"c3":6.3},
{"t":"13090812","b1":6.2,"c1":6.2,"b2":4.6,"c2":4.6,"b3":5.5,"c3":5.5},
{"t":"13090900","b1":7.05,"c1":7.05,"b2":5.45,"c2":5.45,"b3":6.4,"c3":6.4},
{"t":"13090912","b1":6.2,"c1":6.2,"b2":4.65,"c2":4.65,"b3":5.6,"c3":5.6},
{"t":"13091000","b1":7.1,"c1":7.1,"b2":5.45,"c2":5.45,"b3":6.5,"c3":6.5},
{"t":"13091012","b1":6.25,"c1":6.25,"b2":4.6,"c2":4.6,"b3":5.7,"c3":5.7},
{"t":"13091100","b1":7.1,"c1":7.1,"b2":5.5,"c2":5.5,"b3":6.55,"c3":6.55},
{"t":"13091112","b1":6.3,"c1":6.3,"b2":4.65,"c2":4.65,"b3":5.75,"c3":5.75},
{"t":"13091200","b1":7.15,"c1":7.15,"b2":5.5,"c2":5.5,"b3":6.6,"c3":6.6},
{"t":"13091212","b1":6.3,"c1":6.3,"b2":4.7,"c2":4.7,"b3":5.8,"c3":5.8},
{"t":"13091300","b1":7.2,"c1":7.2,"b2":5.6,"c2":5.6,"b3":6.7,"c3":6.7},
{"t":"13091312","b1":6.3,"c1":6.3,"b2":4.8,"c2":4.8,"b3":5.9,"c3":5.9},
{"t":"13091400","b1":7.25,"c1":7.25,"b2":5.7,"c2":5.7,"b3":6.75,"c3":6.75},
{"t":"13091412","b1":6.3,"c1":6.3,"b2":4.9,"c2":4.9,"b3":5.95,"c3":5.95},
{"t":"13091500","b1":7.25,"c1":7.25,"b2":5.75,"c2":5.75,"b3":6.8,"c3":6.8},
{"t":"13091512","b1":6.35,"c1":6.35,"b2":5.0,"c2":5.0,"b3":5.95,"c3":5.95},
{"t":"13091600","b1":7.3,"c1":7.3,"b2":5.8,"c2":5.8,"b3":6.9,"c3":6.9},
{"t":"13091612","b1":6.3,"c1":6.3,"b2":5.0,"c2":5.0,"b3":6.0,"c3":6.0},
{"t":"13091700","b1":7.3,"c1":7.3,"b2":5.8,"c2":5.8,"b3":7.0,"c3":7.0},
{"t":"13091712","b1":6.3,"c1":6.3,"b2":5.0,"c2":5.0,"b3":6.1,"c3":6.1},
{"t":"13091800","b1":7.3,"c1":7.3,"b2":5.85,"c2":5.85,"b3":7.05,"c3":7.05},
{"t":"13091812","b1":6.35,"c1":6.35,"b2":5.0,"c2":5.0,"b3":6.15,"c3":6.15},
{"t":"13091900","b1":7.25,"c1":7.25,"b2":5.85,"c2":5.85,"b3":7.1,"c3":7.1},
{"t":"13091912","b1":6.3,"c1":6.3,"b2":5.05,"c2":5.05,"b3":6.2,"c3":6.2},
{"t":"13092000","b1":7.3,"c1":7.3,"b2":5.9,"c2":5.9,"b3":7.15,"c3":7.15},
{"t":"13092012","b1":6.3,"c1":6.3,"b2":5.05,"c2":5.05,"b3":6.25,"c3":6.25},
{"t":"13092100","b1":7.3,"c1":7.3,"b2":5.9,"c2":5.9,"b3":7.15,"c3":7.15},
{"t":"13092112","b1":6.25,"c1":6.25,"b2":5.05,"c2":5.05,"b3":6.3,"c3":6.3},
{"t":"13092200","b1":7.7,"c1":7.7,"b2":5.9,"c2":5.9,"b3":7.2,"c3":7.2},
{"t":"13092212","b1":6.8,"c1":6.8,"b2":5.1,"c2":5.1,"b3":6.3,"c3":6.3},
{"t":"13092300","b1":7.75,"c1":7.75,"b2":5.95,"c2":5.95,"b3":7.2,"c3":7.2},
{"t":"13092312","b1":6.85,"c1":6.85,"b2":5.1,"c2":5.1,"b3":6.35,"c3":6.35},
{"t":"13092400","b1":7.8,"c1":7.8,"b2":5.95,"c2":5.95,"b3":7.25,"c3":7.25},
{"t":"13092412","b1":6.8,"c1":6.8,"b2":5.15,"c2":5.15,"b3":6.4,"c3":6.4},
{"t":"13092500","b1":7.8,"c1":7.8,"b2":5.95,"c2":5.95,"b3":7.25,"c3":7.25},
{"t":"13092512","b1":6.85,"c1":6.85,"b2":5.15,"c2":5.15,"b3":6.45,"c3":6.45},
{"t":"13092600","b1":7.75,"c1":7.75,"b2":6.0,"c2":6.0,"b3":7.3,"c3":7.3},
{"t":"13092612","b1":6.9,"c1":6.9,"b2":5.1,"c2":5.1,"b3":6.5,"c3":6.5},
{"t":"13092700","b1":7.7,"c1":7.7,"b2":5.95,"c2":5.95,"b3":7.3,"c3":7.3},
{"t":"13092712","b1":6.85,"c1":6.85,"b2":5.1,"c2":5.1,"b3":6.55,"c3":6.55},
{"t":"13092800","b1":7.75,"c1":7.75,"b2":5.95,"c2":5.95,"b3":7.3,"c3":7.3},
{"t":"13092812","b1":6.9,"c1":6.9,"b2":5.05,"c2":5.05,"b3":6.55,"c3":6.55},
{"t":"13092900","b1":7.7,"c1":7.7,"b2":6.0,"c2":6.0,"b3":7.35,"c3":7.35},
{"t":"13092912","b1":6.9,"c1":6.9,"b2":5.05,"c2":5.05,"b3":6.6,"c3":6.6},
{"t":"13093000","b1":7.75,"c1":7.75,"b2":5.95,"c2":5.95,"b3":7.3,"c3":7.3},
{"t":"13093012","b1":6.85,"c1":6.85,"b2":5.05,"c2":5.05,"b3":6.6,"c3":6.6},
{"t":"13100100","b1":7.7,"c1":7.7,"b2":5.9,"c2":5.9,"b3":7.2,"c3":7.2}
]},
"vconcat":[
{"width":1021,"height":436,
"transform":[{"fold":["b1","c1"],"as":["s","v"]}],
"encoding":{
"x":{"field":"t","type":"temporal","title":"date","scale":{"domain":[{"year":2013,"month":4,"date":1},{"year":2013,"month":10,"date":1}]},"axis":{"format":"%m/%d/%y","values":[{"year":2013,"month":4,"date":1},{"year":2013,"month":5,"date":1},{"year":2013,"month":6,"date":1},{"year":2013,"month":7,"date":1},{"year":2013,"month":8,"date":1},{"year":2013,"month":9,"date":1},{"year":2013,"month":10,"date":1}]}},
"y":{"field":"v","type":"quantitative","title":"Concentration, mg/L","scale":{"domain":[4,13],"nice":false,"zero":false},"axis":{"values":[4,5,6,7,8,9,10,11,12,13]}}},
"layer":[
{"mark":{"type":"line","clip":true},
"encoding":{
"color":{"field":"s","type":"nominal","title":null,"scale":{"domain":["b1","c1"],"range":["#000000","#2391DB"]},"legend":{"labelExpr":"datum.label=='b1' ? 'Baseline' : 'Baseline + 12 previously omitted CSOs'"}},
"strokeDash":{"field":"s","type":"nominal","title":null,"scale":{"domain":["b1","c1"],"range":[[1,0],[9,4]]},"legend":{"labelExpr":"datum.label=='b1' ? 'Baseline' : 'Baseline + 12 previously omitted CSOs'"}},
"strokeWidth":{"field":"s","type":"ordinal","scale":{"domain":["b1","c1"],"range":[1,1.6]},"legend":null}}},
{"mark":{"type":"point","opacity":0},
"encoding":{
"x":{"field":"t","type":"temporal","axis":{"orient":"top","labels":false,"title":null,"domain":false,"values":[{"year":2013,"month":5,"date":1},{"year":2013,"month":6,"date":1},{"year":2013,"month":7,"date":1},{"year":2013,"month":8,"date":1},{"year":2013,"month":9,"date":1}]}},
"y":{"field":"v","type":"quantitative","axis":{"orient":"right","labels":false,"title":null,"domain":false,"values":[5,6,7,8,9,10,11,12]}}}}
],
"resolve":{"axis":{"x":"independent","y":"independent"}}
},
{"spacing":16,
"resolve":{"scale":{"color":"independent","strokeDash":"independent","strokeWidth":"independent"}},
"vconcat":[
{"width":1021,"height":437,
"transform":[{"fold":["b2","c2"],"as":["s","v"]}],
"encoding":{
"x":{"field":"t","type":"temporal","title":"date","scale":{"domain":[{"year":2013,"month":4,"date":1},{"year":2013,"month":10,"date":1}]},"axis":{"format":"%m/%d/%y","values":[{"year":2013,"month":4,"date":1},{"year":2013,"month":5,"date":1},{"year":2013,"month":6,"date":1},{"year":2013,"month":7,"date":1},{"year":2013,"month":8,"date":1},{"year":2013,"month":9,"date":1},{"year":2013,"month":10,"date":1}]}},
"y":{"field":"v","type":"quantitative","title":"Concentration, mg/L","scale":{"domain":[3,12],"nice":false,"zero":false},"axis":{"values":[3,4,5,6,7,8,9,10,11,12]}}},
"layer":[
{"mark":{"type":"line","clip":true},
"encoding":{
"color":{"field":"s","type":"nominal","title":null,"scale":{"domain":["b2","c2"],"range":["#000000","#2391DB"]},"legend":{"labelExpr":"datum.label=='b2' ? 'Baseline' : 'Baseline + 12 previously omitted CSOs'"}},
"strokeDash":{"field":"s","type":"nominal","title":null,"scale":{"domain":["b2","c2"],"range":[[1,0],[9,4]]},"legend":{"labelExpr":"datum.label=='b2' ? 'Baseline' : 'Baseline + 12 previously omitted CSOs'"}},
"strokeWidth":{"field":"s","type":"ordinal","scale":{"domain":["b2","c2"],"range":[1,1.6]},"legend":null}}},
{"mark":{"type":"point","opacity":0},
"encoding":{
"x":{"field":"t","type":"temporal","axis":{"orient":"top","labels":false,"title":null,"domain":false,"values":[{"year":2013,"month":5,"date":1},{"year":2013,"month":6,"date":1},{"year":2013,"month":7,"date":1},{"year":2013,"month":8,"date":1},{"year":2013,"month":9,"date":1}]}},
"y":{"field":"v","type":"quantitative","axis":{"orient":"right","labels":false,"title":null,"domain":false,"values":[4,5,6,7,8,9,10,11]}}}}
],
"resolve":{"axis":{"x":"independent","y":"independent"}}
},
{"width":1021,"height":437,
"transform":[{"fold":["b3","c3"],"as":["s","v"]}],
"encoding":{
"x":{"field":"t","type":"temporal","title":"date","scale":{"domain":[{"year":2013,"month":4,"date":1},{"year":2013,"month":10,"date":1}]},"axis":{"format":"%m/%d/%y","values":[{"year":2013,"month":4,"date":1},{"year":2013,"month":5,"date":1},{"year":2013,"month":6,"date":1},{"year":2013,"month":7,"date":1},{"year":2013,"month":8,"date":1},{"year":2013,"month":9,"date":1},{"year":2013,"month":10,"date":1}]}},
"y":{"field":"v","type":"quantitative","title":"Concentration, mg/L","scale":{"domain":[3,12],"nice":false,"zero":false},"axis":{"values":[3,4,5,6,7,8,9,10,11,12]}}},
"layer":[
{"mark":{"type":"line","clip":true},
"encoding":{
"color":{"field":"s","type":"nominal","title":null,"scale":{"domain":["b3","c3"],"range":["#000000","#2391DB"]},"legend":{"labelExpr":"datum.label=='b3' ? 'Baseline' : 'Baseline + 12 previously omitted CSOs'"}},
"strokeDash":{"field":"s","type":"nominal","title":null,"scale":{"domain":["b3","c3"],"range":[[1,0],[9,4]]},"legend":{"labelExpr":"datum.label=='b3' ? 'Baseline' : 'Baseline + 12 previously omitted CSOs'"}},
"strokeWidth":{"field":"s","type":"ordinal","scale":{"domain":["b3","c3"],"range":[1,1.6]},"legend":null}}},
{"mark":{"type":"point","opacity":0},
"encoding":{
"x":{"field":"t","type":"temporal","axis":{"orient":"top","labels":false,"title":null,"domain":false,"values":[{"year":2013,"month":5,"date":1},{"year":2013,"month":6,"date":1},{"year":2013,"month":7,"date":1},{"year":2013,"month":8,"date":1},{"year":2013,"month":9,"date":1}]}},
"y":{"field":"v","type":"quantitative","axis":{"orient":"right","labels":false,"title":null,"domain":false,"values":[4,5,6,7,8,9,10,11]}}}}
],
"resolve":{"axis":{"x":"independent","y":"independent"}}
}
]}
],
"resolve":{"scale":{"color":"independent","strokeDash":"independent","strokeWidth":"independent"}}
}
